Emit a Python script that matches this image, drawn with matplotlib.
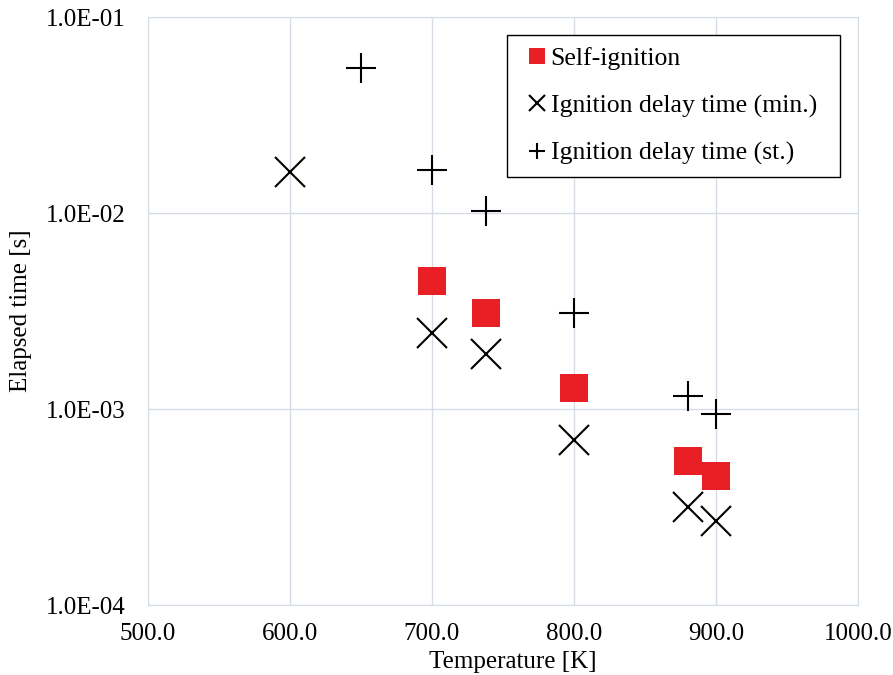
import matplotlib.pyplot as plt
from matplotlib.ticker import FixedLocator, NullLocator

plt.rcParams['font.family'] = ['Liberation Serif', 'DejaVu Serif']

# data
t_self = [700, 738, 800, 880, 900]
y_self = [4.5e-3, 3.1e-3, 1.28e-3, 5.4e-4, 4.55e-4]

t_min = [600, 700, 738, 800, 880, 900]
y_min = [1.62e-2, 2.44e-3, 1.91e-3, 6.95e-4, 3.16e-4, 2.68e-4]

t_st = [650, 700, 738, 800, 880, 900]
y_st = [5.5e-2, 1.66e-2, 1.02e-2, 3.09e-3, 1.16e-3, 9.4e-4]

x_ticks = [500, 600, 700, 800, 900, 1000]
y_ticks = [1e-4, 1e-3, 1e-2, 1e-1]
y_labels = ['1.0E-04', '1.0E-03', '1.0E-02', '1.0E-01']


def plot_graph():
    fig = plt.figure(figsize=(8.93, 6.75), dpi=100)
    ax = fig.add_axes([0.1657, 0.1037, 0.795, 0.8711])

    ax.plot(t_self, y_self, 's', color='#e81f25', markersize=20,
            markeredgewidth=0, label='Self-ignition')
    ax.plot(t_min, y_min, 'x', color='black', markersize=21,
            markeredgewidth=1.5, label='Ignition delay time (min.)')
    ax.plot(t_st, y_st, '+', color='black', markersize=21,
            markeredgewidth=1.5, label='Ignition delay time (st.)')

    ax.set_yscale('log')
    ax.set_xlim(500, 1000)
    ax.set_ylim(1e-4, 1e-1)
    ax.xaxis.set_major_locator(FixedLocator(x_ticks))
    ax.set_xticklabels(['%.1f' % v for v in x_ticks])
    ax.yaxis.set_major_locator(FixedLocator(y_ticks))
    ax.yaxis.set_minor_locator(NullLocator())
    ax.set_yticklabels(y_labels)
    ax.tick_params(axis='x', length=0, labelsize=18, pad=13)
    ax.tick_params(axis='y', length=0, labelsize=18, pad=16)
    ax.grid(True, color='#d6dce5', linewidth=1)
    ax.set_axisbelow(True)
    for s in ax.spines.values():
        s.set_color('#d6dce5')

    ax.set_xlabel('Temperature [K]', fontsize=18, labelpad=4)
    ax.xaxis.set_label_coords(0.514, -0.078)
    ax.set_ylabel('Elapsed time [s]', fontsize=18, labelpad=10)

    leg = ax.legend(loc='upper left', bbox_to_anchor=(0.5056, 0.2, 0.469, 0.769),
                    mode='expand', borderaxespad=0, fontsize=18.5,
                    markerscale=0.55, handlelength=1.48, handletextpad=-0.23,
                    labelspacing=0.95, borderpad=0.45,
                    fancybox=False, framealpha=1)
    leg.get_frame().set_edgecolor('black')
    leg.get_frame().set_linewidth(1)

    fig.savefig('out.png', dpi=100)


def main():
    plot_graph()

main()
